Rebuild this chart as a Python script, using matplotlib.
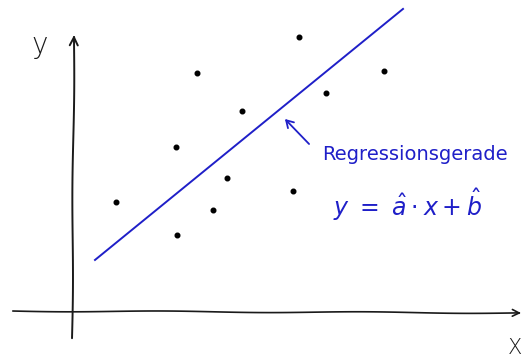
"""
Sketch of a linear regression line through a scatter of points.
"""

import matplotlib
matplotlib.use("Agg")
import numpy as np
import matplotlib.pyplot as plt

# ── Data (origin = where the axes cross) ──────────────────────────────────────
pts_x = [125, 227, 170, 104, 155, 44, 141, 105, 312, 254, 221]
pts_y = [238, 274, 200, 164, 133, 109, 101, 76, 240, 218, 120]

a_hat = 0.815
b_hat = 32.3
line_x = [23, 331]

line_label = "Regressionsgerade"
eq_label = r"$y\ =\ \hat{a}\cdot x + \hat{b}$"

blue = "#1f1fc8"
ink = "#1a1a1a"

# ── Figure ────────────────────────────────────────────────────────────────────
fig = plt.figure(figsize=(5.24, 3.58), dpi=100)
ax = fig.add_axes([0, 0, 1, 1])
ax.set_xlim(-72, 452)
ax.set_ylim(-47, 311)
ax.axis("off")

# hand-drawn axes
yax = ax.annotate("", xy=(2, 279), xytext=(0, -30),
                  arrowprops=dict(arrowstyle="->,head_length=0.6,head_width=0.3",
                                  color=ink, lw=1.4))
xax = ax.annotate("", xy=(452, -2), xytext=(-62, 0),
                  arrowprops=dict(arrowstyle="->,head_length=0.5,head_width=0.25",
                                  color=ink, lw=1.2))
for a in (yax, xax):
    a.arrow_patch.set_sketch_params(scale=0.6, length=200, randomness=1)

ax.text(-32, 266, "y", fontsize=20, color=ink, ha="center", va="center",
        fontweight="light")
ax.text(443, -37, "X", fontsize=15, color=ink, ha="center", va="center",
        fontweight="light")

# points
ax.scatter(pts_x, pts_y, s=11, color="black", zorder=3)

# regression line
lx = np.array(line_x)
ax.plot(lx, a_hat * lx + b_hat, color=blue, lw=1.4)

# annotation
ax.annotate("", xy=(211, 194), xytext=(239, 165),
            arrowprops=dict(arrowstyle="->,head_length=0.5,head_width=0.3",
                            color=blue, lw=1.3))
ax.text(250, 156, line_label, fontsize=14, color=blue, ha="left", va="center")
ax.text(335, 106, eq_label, fontsize=17, color=blue, ha="center", va="center")

fig.savefig("out.png", dpi=100)
